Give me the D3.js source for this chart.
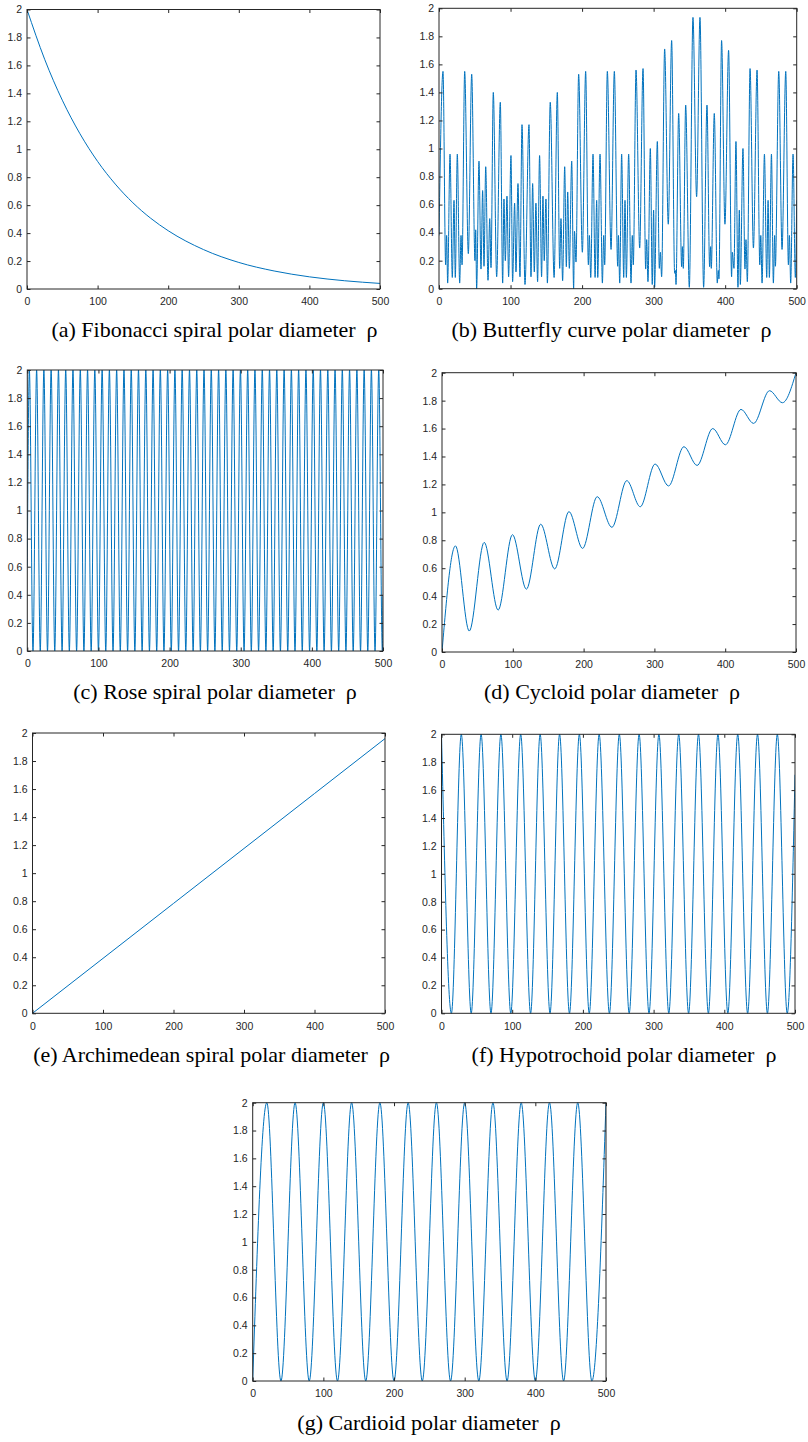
<!DOCTYPE html>
<html><head><meta charset="utf-8">
<script src="https://cdn.jsdelivr.net/npm/d3@7"></script>
<style>body{margin:0;background:#fff}svg{display:block}</style>
</head><body><svg id="fig" width="808" height="1442"></svg>
<script>
// Shared tick values / labels
const xTicks = [0, 100, 200, 300, 400, 500];
const xTickLabels = ["0", "100", "200", "300", "400", "500"];
const yTicks = [0, 0.2, 0.4, 0.6, 0.8, 1, 1.2, 1.4, 1.6, 1.8, 2];
const yTickLabels = ["0", "0.2", "0.4", "0.6", "0.8", "1", "1.2", "1.4", "1.6", "1.8", "2"];

// (a) Fibonacci spiral
const fibX = [0, 25, 50, 75, 100, 125, 150, 175, 200, 250, 300, 350, 400, 450, 500];
const fibY = [2.0, 1.644, 1.351, 1.111, 0.913, 0.751, 0.617, 0.507, 0.417, 0.282, 0.190, 0.129, 0.087, 0.059, 0.040];

// (b) Butterfly curve (turning points)
const butX = [0, 5.6, 9.3, 10.7, 12.1, 15.4, 18.6, 21, 22.8, 25.6, 28.9, 30.8, 32.2, 35.9, 41, 45.7, 50.3, 51.3, 52.6, 55.9,
  58.7, 61, 62.9, 65.3, 68.5, 70.9, 72.7, 75.9, 80.6, 85.7, 89, 90.8, 92.7, 95, 97.3, 100.6, 102.9, 105.7, 107.6, 110.4,
  113.2, 116, 120.2, 125.8, 128.6, 130.9, 133.2, 135.5, 137.8, 140.6, 143.4, 145.3, 147.1, 149.5, 151.5, 155.5, 160.9, 165.4, 168.7, 170.5,
  172.8, 175.7, 178, 179.9, 182.2, 185.5, 188.2, 189.4, 191.5, 195.2, 200.4, 205, 208.8, 210.2, 212.1, 215.3, 218.2, 220.4, 221.9, 225.1,
  228.4, 230.2, 231.6, 235.3, 240.5, 245.1, 249.8, 250.8, 252.6, 255.3, 258.2, 260, 261.9, 265.1, 268.4, 270.2, 271.6, 275.4, 280.5, 285.2,
  288.9, 290.3, 292.1, 295.4, 298.1, 300, 301.4, 305.2, 308, 309.4, 311.2, 315.4, 320.5, 325.2, 329.4, 330.4, 331.3, 335, 339.2, 340.2,
  341.5, 344.8, 349.9, 355, 360.1, 364.8, 369.9, 374.6, 378.3, 379.7, 380.6, 384.8, 389, 390.4, 391.3, 395, 399.7, 404.8, 409, 410,
  412.3, 415.1, 417.9, 419.8, 421.2, 424.9, 427.7, 429.1, 431, 434.8, 439.5, 444.6, 448.4, 449.8, 451.6, 454.9, 458.1, 460, 461.8, 464.7,
  467.4, 469.2, 470.2, 474.9, 479.5, 484.7, 488.4, 489.8, 491.6, 494.9, 498.1, 500];
const butY = [0.38, 1.55, 0.17, 0.38, 0.04, 0.96, 0.08, 0.63, 0.08, 0.96, 0.04, 0.38, 0.17, 1.55, 0.25, 1.53, 0.20, 0.42, 0.0, 0.91,
  0.14, 0.70, 0.16, 0.87, 0.06, 0.50, 0.15, 1.40, 0.085, 1.33, 0.04, 0.64, 0.20, 0.66, 0.085, 0.95, 0.05, 0.61, 0.12, 0.75,
  0.085, 1.17, 0.03, 1.17, 0.085, 0.75, 0.12, 0.61, 0.05, 0.95, 0.085, 0.66, 0.20, 0.64, 0.04, 1.33, 0.08, 1.40, 0.145, 0.50,
  0.057, 0.87, 0.157, 0.69, 0.145, 0.91, 0.0, 0.41, 0.19, 1.53, 0.26, 1.55, 0.17, 0.38, 0.08, 0.96, 0.08, 0.63, 0.08, 0.96,
  0.04, 0.38, 0.17, 1.55, 0.28, 1.55, 0.16, 0.38, 0.04, 0.96, 0.08, 0.63, 0.08, 0.96, 0.04, 0.38, 0.17, 1.56, 0.29, 1.57,
  0.14, 0.35, 0.05, 1.0, 0.03, 0.56, 0.01, 1.05, 0.145, 0.26, 0.085, 1.71, 0.46, 1.77, 0.11, 0.13, 0.03, 1.25, 0.157, 0.30,
  0.145, 1.31, 0.01, 1.935, 0.656, 1.935, 0.01, 1.31, 0.157, 0.30, 0.145, 1.25, 0.04, 0.13, 0.07, 1.77, 0.46, 1.70, 0.085, 0.26,
  0.145, 1.05, 0.01, 0.56, 0.03, 1.0, 0.14, 0.35, 0.05, 1.57, 0.29, 1.56, 0.17, 0.38, 0.04, 0.96, 0.08, 0.63, 0.08, 0.96,
  0.04, 0.38, 0.16, 1.55, 0.28, 1.55, 0.17, 0.38, 0.04, 0.96, 0.08, 0.63];

// (c) Rose spiral: peak and trough positions
const rosePeakX = [2.9, 13.1, 23.3, 33.5, 43.8, 54.0, 64.2, 74.5, 84.7, 94.9, 105.2, 115.4, 125.6, 135.9, 146.1, 156.3, 166.6, 176.8,
  187.0, 197.3, 207.5, 217.7, 228.0, 238.2, 248.4, 258.6, 268.9, 279.1, 289.3, 299.6, 309.8, 320.0, 330.3, 340.5, 350.7, 361.0,
  371.2, 381.4, 391.7, 401.9, 412.1, 422.4, 432.6, 442.8, 453.0, 463.3, 473.5, 483.7, 494.0];
const roseTroughX = [8.0, 18.2, 28.4, 38.6, 48.9, 59.1, 69.3, 79.6, 89.8, 100.0, 110.3, 120.5, 130.7, 141.0, 151.2, 161.4, 171.7, 181.9,
  192.1, 202.4, 212.6, 222.8, 233.1, 243.3, 253.5, 263.7, 274.0, 284.2, 294.4, 304.7, 314.9, 325.1, 335.4, 345.6, 355.8, 366.1,
  376.3, 386.5, 396.8, 407.0, 417.2, 427.5, 437.7, 447.9, 458.1, 468.4, 478.6, 488.8, 499.1];
const roseStart = 0.6, roseEnd = 0.4;

// (d) Cycloid
const cycX = [0, 19, 38.5, 59.6, 79.3, 99.5, 119.2, 139.4, 159.2, 179.3, 198.6, 219.2, 240, 261, 280, 301, 320, 341.7, 360.3, 382.4,
  400.3, 422.3, 440.1, 462.6, 480.9, 500];
const cycY = [0, 0.76, 0.15, 0.785, 0.30, 0.84, 0.45, 0.915, 0.595, 1.005, 0.742, 1.112, 0.893, 1.227, 1.04, 1.346, 1.189, 1.47, 1.336, 1.60,
  1.484, 1.737, 1.637, 1.871, 1.785, 2.0];

// (e) Archimedean spiral
const archX = [0, 100, 200, 300, 400, 500];
const archY = [0, 0.392, 0.784, 1.176, 1.568, 1.96];

// (f) Hypotrochoid
const hypX = [0, 14, 28, 42, 56, 70, 84, 98, 112, 126, 139.5, 153.5, 167, 181, 195, 209, 223, 237.5, 251.5, 265.5, 279.5, 293.5,
  307.5, 321.5, 335.5, 349.5, 363.5, 377.5, 391, 405, 419, 433, 447, 461, 475, 489, 500];
const hypY = [2, 0, 2, 0, 2, 0, 2, 0, 2, 0, 2, 0, 2, 0, 2, 0, 2, 0, 2, 0, 2, 0,
  2, 0, 2, 0, 2, 0, 2, 0, 2, 0, 2, 0, 2, 0, 1.71];

// (g) Cardioid
const cardX = [0, 20, 40, 60, 80, 100, 120, 140, 160, 180, 200, 220, 240, 260, 280, 300, 320, 340, 360, 380, 400, 420, 440, 460, 480, 500];
const cardY = [0, 2, 0, 2, 0, 2, 0, 2, 0, 2, 0, 2, 0, 2, 0, 2, 0, 2, 0, 2, 0, 2, 0, 2, 0, 2];

// Rose series assembled from its peaks (2) and troughs (0)
const roseX = [0], roseY = [roseStart];
rosePeakX.forEach((p, i) => {
  roseX.push(p); roseY.push(2);
  if (i < roseTroughX.length) { roseX.push(roseTroughX[i]); roseY.push(0); }
});
roseX.push(500); roseY.push(roseEnd);

const LINE = "#0072BD", AXIS = "#262626";
const svg = d3.select("#fig");
svg.append("rect").attr("width", 808).attr("height", 1442).attr("fill", "#fff");

const panels = [
  {id: "a", l: 27, t: 9.5, r: 380, b: 289, xs: fibX, ys: fibY, cap: "(a) Fibonacci spiral polar diameter  ρ", cx: 214.5, cy: 337},
  {id: "b", l: 439, t: 8.3, r: 796.7, b: 288.7, xs: butX, ys: butY, cap: "(b) Butterfly curve polar diameter  ρ", cx: 611.5, cy: 337},
  {id: "c", l: 27.3, t: 370, r: 383, b: 651, xs: roseX, ys: roseY, cap: "(c) Rose spiral polar diameter  ρ", cx: 215, cy: 699},
  {id: "d", l: 442, t: 372.7, r: 796, b: 652, xs: cycX, ys: cycY, cap: "(d) Cycloid polar diameter  ρ", cx: 612, cy: 699},
  {id: "e", l: 32.5, t: 733, r: 385, b: 1013.3, xs: archX, ys: archY, cap: "(e) Archimedean spiral polar diameter  ρ", cx: 211.5, cy: 1062},
  {id: "f", l: 441.5, t: 734.3, r: 795, b: 1013.3, xs: hypX, ys: hypY, cap: "(f) Hypotrochoid polar diameter  ρ", cx: 624, cy: 1062},
  {id: "g", l: 252.7, t: 1102.7, r: 606, b: 1381, xs: cardX, ys: cardY, cap: "(g) Cardioid polar diameter  ρ", cx: 429, cy: 1430}
];

const defs = svg.append("defs");

panels.forEach(p => {
  const x = d3.scaleLinear().domain([0, 500]).range([p.l, p.r]);
  const y = d3.scaleLinear().domain([0, 2]).range([p.b, p.t]);
  const g = svg.append("g").attr("class", "panel-" + p.id);

  defs.append("clipPath").attr("id", "clip-" + p.id)
    .append("rect").attr("x", p.l).attr("y", p.t - 1).attr("width", p.r - p.l).attr("height", p.b - p.t + 2);

  g.append("path")
    .datum(d3.zip(p.xs, p.ys))
    .attr("clip-path", "url(#clip-" + p.id + ")")
    .attr("fill", "none")
    .attr("stroke", LINE)
    .attr("stroke-width", 1)
    .attr("stroke-linejoin", "round")
    .attr("d", d3.line().x(d => x(d[0])).y(d => y(d[1])).curve(d3.curveMonotoneX));

  const styleAxis = (sel, labels) => {
    sel.select(".domain").remove();
    sel.selectAll(".tick line").attr("stroke", AXIS).attr("stroke-width", 1);
    sel.selectAll(".tick text")
      .attr("fill", AXIS)
      .style("font-family", "'Liberation Sans', Arial, Helvetica, sans-serif")
      .style("font-size", "10.5px");
    if (!labels) sel.selectAll(".tick text").remove();
  };

  g.append("g").attr("transform", `translate(0,${p.b})`)
    .call(d3.axisBottom(x).tickValues(xTicks).tickFormat((d, i) => xTickLabels[i]).tickSize(-3.5).tickPadding(9))
    .call(s => styleAxis(s, true));
  g.append("g").attr("transform", `translate(0,${p.t})`)
    .call(d3.axisTop(x).tickValues(xTicks).tickSize(-3.5))
    .call(s => styleAxis(s, false));
  g.append("g").attr("transform", `translate(${p.l},0)`)
    .call(d3.axisLeft(y).tickValues(yTicks).tickFormat((d, i) => yTickLabels[i]).tickSize(-3.5).tickPadding(5))
    .call(s => styleAxis(s, true));
  g.append("g").attr("transform", `translate(${p.r},0)`)
    .call(d3.axisRight(y).tickValues(yTicks).tickSize(-3.5))
    .call(s => styleAxis(s, false));

  g.append("rect")
    .attr("x", p.l).attr("y", p.t).attr("width", p.r - p.l).attr("height", p.b - p.t)
    .attr("fill", "none").attr("stroke", AXIS).attr("stroke-width", 1);

  g.append("text")
    .attr("x", p.cx).attr("y", p.cy)
    .attr("text-anchor", "middle")
    .attr("xml:space", "preserve")
    .style("white-space", "pre")
    .style("font-family", "'Times New Roman', 'Liberation Serif', Tinos, 'DejaVu Serif', serif")
    .style("font-size", "22px")
    .attr("fill", "#000")
    .text(p.cap);
});
</script></body></html>
